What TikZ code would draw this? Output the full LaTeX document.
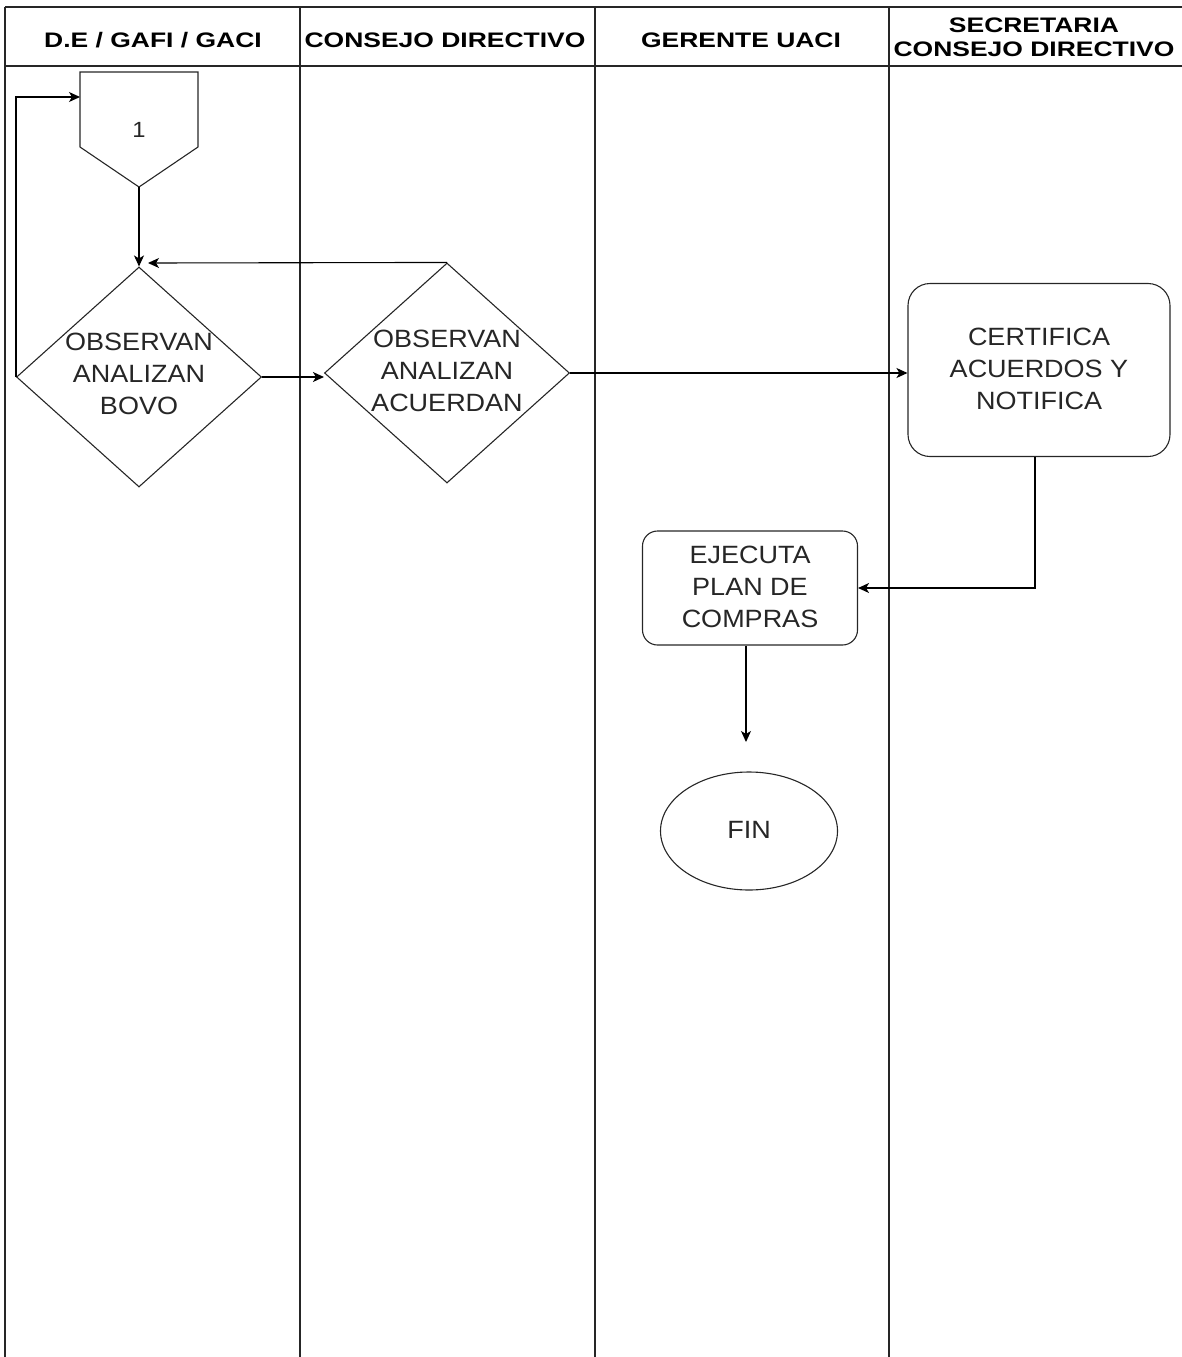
\documentclass[tikz,border=0pt]{standalone}
\usepackage{fontspec}
\setmainfont[FakeStretch=1.08]{Liberation Sans}
\newfontfamily\hdrfont[FakeStretch=1.26]{Liberation Sans}
\usetikzlibrary{shapes.geometric,arrows.meta}
\definecolor{txt}{HTML}{262626}
\tikzset{
  lane/.style={line width=1.3pt, draw=black!85},
  hdr/.style={font=\hdrfont\bfseries\fontsize{21}{30}\selectfont, align=center, text=black},
  body/.style={font=\fontsize{25}{32}\selectfont, align=center, text=txt},
  shp/.style={draw=black!85, line width=1.1pt},
  dia/.style={shp, diamond, minimum width=245pt, minimum height=220pt, inner sep=0pt},
  rbox/.style={shp, rectangle, rounded corners=#1, inner sep=0pt},
  conn/.style={line width=1.1pt, draw=black, -{Stealth[length=11pt,width=10pt,inset=3pt]}},
}
\begin{document}
\begin{tikzpicture}[x=1pt,y=-1pt]
\useasboundingbox (0,0) rectangle (1182,1357);
% lanes
\draw[lane] (5,7) -- (1182,7);
\draw[lane] (5,66) -- (1182,66);
\foreach \xx in {5,300,595,889} \draw[lane] (\xx,7) -- (\xx,1357);
% headers
\node[hdr] (h1) at (153,40) {D.E / GAFI / GACI};
\node[hdr] (h2) at (445,40) {CONSEJO DIRECTIVO};
\node[hdr] (h3) at (741,40) {GERENTE UACI};
\node[hdr] (h4) at (1034,37) {SECRETARIA\\[-6pt]CONSEJO DIRECTIVO};
% off-page connector
\draw[shp] (80,72) -- (198,72) -- (198,147) -- (139,187) -- (80,147) -- cycle;
\node[body, font=\fontsize{22}{26}\selectfont] (off) at (139,130) {1};
\coordinate (offtip) at (139,187);
\coordinate (offw) at (80,97);
% diamonds
\node[dia] (d1) at (139,377) {};
\node[body] (d1t) at (139,374) {OBSERVAN\\ANALIZAN\\BOVO};
\node[dia] (d2) at (447,373) {};
\node[body] (d2t) at (447,371) {OBSERVAN\\ANALIZAN\\ACUERDAN};
% boxes
\node[rbox=22pt, minimum width=262pt, minimum height=173pt] (cert) at (1039,370) {};
\node[body] (certt) at (1039,369) {CERTIFICA\\ACUERDOS Y\\NOTIFICA};
\node[rbox=15pt, minimum width=215pt, minimum height=114pt] (ejec) at (750,588) {};
\node[body] (eject) at (750,587) {EJECUTA\\PLAN DE\\COMPRAS};
\node[shp, ellipse, minimum width=177pt, minimum height=118pt, inner sep=0pt] (fin) at (749,831) {};
\node[body] (fint) at (749,830) {FIN};
% connectors
\coordinate (d1in) at (148,263);
\coordinate (ejecend) at (746,742);
\draw[conn] (offtip) -- (d1.north);
\draw[conn] (d1.west) -- (d1.west |- offw) -- (offw);
\draw[conn] (d2.north) -- (d1in);
\draw[conn] (d1.east) -- (d2.west |- d1.east);
\draw[conn] (d2.east) -- (cert.west |- d2.east);
\draw[conn] (cert.south -| 1035,0) |- (ejec.east);
\draw[conn] (ejec.south -| ejecend) -- (ejecend);
\end{tikzpicture}
\end{document}
